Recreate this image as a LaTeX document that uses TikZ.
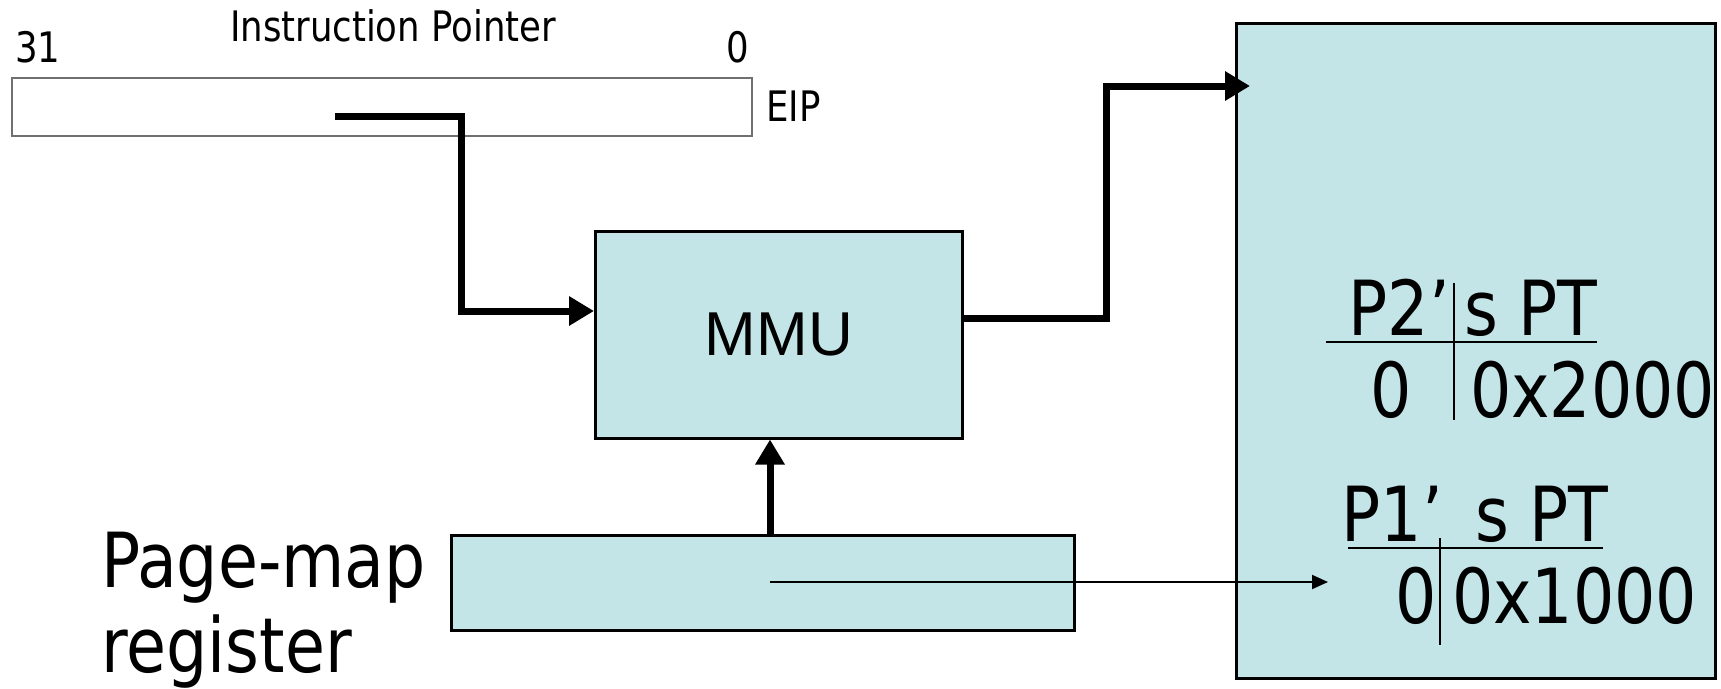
\documentclass[tikz,border=0pt]{standalone}
\usepackage{fontspec}
\usepackage{tikz}
\usetikzlibrary{arrows.meta, positioning, calc}
\newfontfamily\slidefont[FakeStretch=0.95]{DejaVu Sans Condensed}
\newfontfamily\clearfont[FakeStretch=0.94]{DejaVu Sans Condensed}
\newfontfamily\mmufont{Liberation Sans}
\definecolor{pgCyan}{HTML}{C4E5E8}
\definecolor{pgGray}{HTML}{707070}

\begin{document}
\begin{tikzpicture}[
  x=1pt, y=-1pt,
  regbox/.style={draw=pgGray, fill=white, line width=2pt, inner sep=0pt,
               anchor=north west},
  cyanbox/.style={draw=black, fill=pgCyan, line width=2.5pt, inner sep=0pt,
               anchor=north west},
  smalltxt/.style={font=\clearfont\fontsize{42}{48}\selectfont, inner sep=0pt},
  bigtxt/.style={font=\slidefont\fontsize{76}{85}\selectfont, inner sep=0pt},
  bigarr/.style={-{Triangle[length=25pt, width=28pt]}, line width=7pt},
  thinarr/.style={-{Triangle[length=16pt, width=14pt]}, line width=2pt},
  ptline/.style={line width=2pt}
]
  \useasboundingbox (0,0) rectangle (1721,688);

  % instruction pointer register
  \node[regbox, minimum width=740pt, minimum height=58pt] (eip) at (11,77) {};
  \node[smalltxt, anchor=base] (iptitle) at (393,41) {Instruction Pointer};
  \node[smalltxt, anchor=base west] (bit31) at (15,62) {31};
  \node[smalltxt, anchor=base] (bit0) at (738,62) {0};
  \node[smalltxt, anchor=base west] (eiplabel) at (766,121) {EIP};

  % MMU, page-map register, memory
  \node[cyanbox, minimum width=367pt, minimum height=207pt,
        font=\mmufont\fontsize{62}{70}\selectfont] (mmu) at (594,230) {MMU};
  \node[cyanbox, minimum width=623pt, minimum height=95pt] (pmr) at (450,534) {};
  \node[cyanbox, minimum width=479pt, minimum height=655pt] (mem) at (1235,22) {};
  \node[bigtxt, align=left, anchor=north west] (pmrlabel) at (101,532) {Page-map\\register};

  % page tables
  \node[bigtxt, anchor=base east] (p2name) at (1450,335) {P2’};
  \node[bigtxt, anchor=base west] (p2pt) at (1464,335) {s PT};
  \node[bigtxt, anchor=base] (p2page) at (1391,417) {0};
  \node[bigtxt, anchor=base west] (p2frame) at (1470,417) {0x2000};
  \draw[ptline] (1326,342) -- (1597,342);
  \draw[ptline] (1454,283) -- (1454,420);

  \node[bigtxt, anchor=base east] (p1name) at (1443,541) {P1’};
  \node[bigtxt, anchor=base west] (p1pt) at (1475,541) {s PT};
  \node[bigtxt, anchor=base] (p1page) at (1416,623) {0};
  \node[bigtxt, anchor=base west] (p1frame) at (1452,623) {0x1000};
  \draw[ptline] (1348,548) -- (1603,548);
  \draw[ptline] (1440,538) -- (1440,645);

  % connectors
  \coordinate (ipsrc) at (335,116);
  \coordinate (ipbend) at (461,311);
  \coordinate (mmuout) at (mmu.east |- 0,318);
  \coordinate (membend) at (1106,86);
  \coordinate (memin) at (1250,86);
  \coordinate (upx) at (770,0);
  \coordinate (ptsrc) at (770,582);
  \coordinate (p1row) at (1328,582);

  \draw[bigarr] (ipsrc) -| (ipbend) -- (ipbend -| mmu.west);
  \draw[bigarr] (mmuout) -| (membend) -- (memin);
  \draw[bigarr] (pmr.north -| upx) -- (mmu.south -| upx);
  \draw[thinarr] (ptsrc) -- (p1row);
\end{tikzpicture}
\end{document}
